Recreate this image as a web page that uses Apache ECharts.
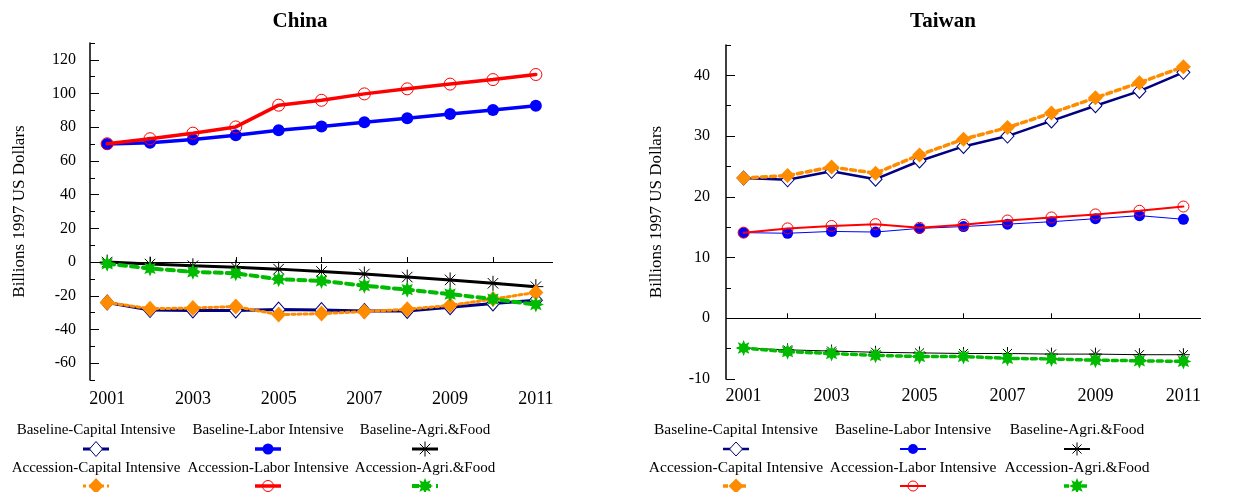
<!DOCTYPE html>
<html>
<head>
<meta charset="utf-8">
<script src="https://cdn.jsdelivr.net/npm/echarts@6/dist/echarts.min.js"></script>
<style>
  html, body { margin: 0; padding: 0; background: #fff; }
  #chart { width: 1238px; height: 492px; }
</style>
</head>
<body>
<div id="chart"></div>
<script>
// Years on the horizontal axis
const years = [2001, 2002, 2003, 2004, 2005, 2006, 2007, 2008, 2009, 2010, 2011];
const labelYears = [2001, 2003, 2005, 2007, 2009, 2011];
const tickYears = [2002, 2004, 2006, 2008, 2010];

const seriesNames = [
  'Baseline-Capital Intensive', 'Baseline-Labor Intensive', 'Baseline-Agri.&Food',
  'Accession-Capital Intensive', 'Accession-Labor Intensive', 'Accession-Agri.&Food'
];

// China, billions of 1997 US dollars
const chinaBaseCap  = [-24, -28.5, -28.7, -28.7, -28.2, -28.5, -29, -29, -26.8, -24.6, -22.6];
const chinaBaseLab  = [70, 70.8, 72.7, 75.3, 78.2, 80.4, 83, 85.3, 87.9, 90.2, 92.7];
const chinaBaseAgri = [0, -1.2, -2.2, -3.1, -4.2, -5.6, -7.1, -8.9, -10.6, -12.6, -14.6];
const chinaAccCap   = [-24, -27.7, -27.3, -26.4, -31.2, -30.6, -29.4, -28, -25.7, -22, -18];
const chinaAccLab   = [70.2, 73.2, 76.5, 80.2, 93.1, 96, 99.8, 102.8, 105.6, 108.3, 111.3];
const chinaAccAgri  = [-1, -3.8, -5.8, -6.7, -10.2, -11.2, -14, -16.4, -19, -22, -25.2];

// Taiwan, billions of 1997 US dollars
const twBaseCap  = [23.1, 22.8, 24.2, 22.9, 25.9, 28.3, 30, 32.5, 35, 37.4, 40.5];
const twBaseLab  = [14.1, 14.0, 14.3, 14.2, 14.8, 15.1, 15.5, 15.9, 16.4, 16.9, 16.3];
const twBaseAgri = [-4.9, -5.2, -5.4, -5.6, -5.7, -5.8, -5.8, -5.9, -5.9, -6.0, -6.0];
const twAccCap   = [23.1, 23.5, 24.9, 23.9, 26.9, 29.5, 31.4, 33.8, 36.3, 38.8, 41.4];
const twAccLab   = [14.1, 14.8, 15.2, 15.5, 14.9, 15.4, 16.1, 16.6, 17.1, 17.7, 18.4];
const twAccAgri  = [-4.9, -5.5, -5.8, -6.1, -6.3, -6.3, -6.6, -6.7, -6.9, -7.0, -7.1];

// Y tick labels
const chinaYLabels = [-60, -40, -20, 0, 20, 40, 60, 80, 100, 120];
const chinaYMinor  = [-70, -50, -30, -10, 10, 30, 50, 70, 90, 110, 130];
const twYLabels = [-10, 0, 10, 20, 30, 40];
const twYMinor  = [-5, 5, 15, 25, 35, 45];

const FONT = '"Liberation Serif", "Times New Roman", serif';
const NAVY = '#000080', BLUE = '#0000ff', BLACK = '#000000',
      ORANGE = '#ff8c00', RED = '#ff0000', GREEN = '#00bb00';

function starPts(n, rOut, rIn, cx, cy) {
  const pts = [];
  for (let i = 0; i < 2 * n; i++) {
    const a = -Math.PI / 2 + i * Math.PI / n;
    const r = i % 2 ? rIn : rOut;
    pts.push([cx + r * Math.cos(a), cy + r * Math.sin(a)]);
  }
  return pts;
}
const STAR_PATH = 'path://' + starPts(8, 10, 5.5, 10, 10)
  .map((p, i) => (i ? 'L' : 'M') + p[0].toFixed(2) + ',' + p[1].toFixed(2)).join('') + 'Z';
const ASTER_PATH = 'path://M0,5L10,5M5,0L5,10M1.5,1.5L8.5,8.5M8.5,1.5L1.5,8.5';

// Drawing styles per chart, in series order
const chinaStyles = [
  { color: NAVY,   lw: 3,   dash: 'solid', sym: 'diamond',  size: [13, 15], fill: '#fff', bw: 1 },
  { color: BLUE,   lw: 3.5, dash: 'solid', sym: 'circle',   size: 12, fill: BLUE },
  { color: BLACK,  lw: 3,   dash: 'solid', sym: 'asterisk', size: 15, fill: 'rgba(0,0,0,0)', bw: 1 },
  { color: ORANGE, lw: 3,   dash: [3, 3],  sym: 'diamond',  size: [15, 16], fill: ORANGE },
  { color: RED,    lw: 3.5, dash: 'solid', sym: 'circle',   size: 12, fill: 'rgba(255,255,255,0)', bw: 1 },
  { color: GREEN,  lw: 4,   dash: [7, 5],  sym: 'star',     size: 16, fill: GREEN }
];
const twStyles = [
  { color: NAVY,   lw: 2.5, dash: 'solid', sym: 'diamond',  size: [13, 14], fill: '#fff', bw: 1 },
  { color: BLUE,   lw: 1,   dash: 'solid', sym: 'circle',   size: 11, fill: BLUE },
  { color: BLACK,  lw: 1,   dash: 'solid', sym: 'asterisk', size: 13, fill: 'rgba(0,0,0,0)', bw: 1 },
  { color: ORANGE, lw: 3.5, dash: [5, 4],  sym: 'diamond',  size: [15, 15], fill: ORANGE },
  { color: RED,    lw: 2,   dash: 'solid', sym: 'circle',   size: 11, fill: 'rgba(255,255,255,0)', bw: 1 },
  { color: GREEN,  lw: 3.5, dash: [5, 4],  sym: 'star',     size: 16, fill: GREEN }
];

function symbolOf(s) {
  if (s.sym === 'asterisk') return ASTER_PATH;
  if (s.sym === 'star') return STAR_PATH;
  return s.sym;
}

function pairs(vals) { return years.map((y, i) => [y, vals[i]]); }

function buildSeries(dataSets, styles, k) {
  return dataSets.map((vals, i) => {
    const s = styles[i];
    const ser = {
      name: seriesNames[i],
      type: 'line',
      xAxisIndex: k,
      yAxisIndex: 2 * k,
      data: pairs(vals),
      symbol: symbolOf(s),
      symbolSize: s.size,
      symbolKeepAspect: true,
      showAllSymbol: true,
      lineStyle: { color: s.color, width: s.lw, type: s.dash, cap: 'round' },
      itemStyle: { color: s.fill, borderColor: s.color, borderWidth: s.bw || 0 },
      emphasis: { disabled: true },
      z: 3 + i
    };
    if (i === 0) {
      ser.markLine = {
        silent: true,
        symbol: ['none', 'none'],
        label: { show: false },
        lineStyle: { color: '#000', width: 1, type: 'solid' },
        data: [{ yAxis: 0 }]
      };
    }
    return ser;
  });
}

function xAxisFor(k, margin) {
  return {
    gridIndex: k, type: 'value', min: 2000.6, max: 2011.4,
    axisLine: { show: false },
    axisTick: { show: true, inside: true, length: 5, customValues: tickYears,
                lineStyle: { color: '#000', width: 1 } },
    axisLabel: { customValues: labelYears, margin: margin, color: '#000',
                 fontFamily: FONT, fontSize: 18, formatter: v => String(v) },
    splitLine: { show: false }
  };
}

function yAxesFor(k, min, max, labels, minor, margin, nameGap) {
  return [{
    gridIndex: k, type: 'value', min: min, max: max,
    axisLine: { show: true, lineStyle: { color: '#000', width: 1.5 } },
    axisTick: { show: true, inside: true, length: 9, customValues: labels,
                lineStyle: { color: '#000', width: 1 } },
    axisLabel: { customValues: labels, margin: margin, color: '#000',
                 fontFamily: FONT, fontSize: 16 },
    splitLine: { show: false },
    name: 'Billions 1997 US Dollars', nameLocation: 'middle', nameRotate: 90,
    nameGap: nameGap,
    nameTextStyle: { color: '#000', fontFamily: FONT, fontSize: 17 }
  }, {
    gridIndex: k, type: 'value', min: min, max: max, position: 'left',
    axisLine: { show: false },
    axisTick: { show: true, inside: true, length: 5, customValues: minor,
                lineStyle: { color: '#000', width: 1 } },
    axisLabel: { show: false },
    splitLine: { show: false }
  }];
}

// Legend: caption above, line sample with marker below
function legendGraphics(styles, cols, rowsText, rowsSym, fontSize) {
  const els = [];
  styles.forEach((s, i) => {
    const cx = cols[i % 3];
    const row = Math.floor(i / 3);
    const ty = rowsText[row], sy = rowsSym[row];
    els.push({
      type: 'text', x: cx, y: ty, silent: true,
      style: { text: seriesNames[i], fill: '#000', font: fontSize + 'px ' + FONT,
               align: 'center', verticalAlign: 'middle' }
    });
    els.push({
      type: 'line', silent: true,
      shape: { x1: cx - 13, y1: sy, x2: cx + 13, y2: sy },
      style: { stroke: s.color, lineWidth: Math.max(s.lw, 2),
               lineDash: Array.isArray(s.dash) ? s.dash : null }
    });
    const sz = Array.isArray(s.size) ? s.size : [s.size, s.size];
    if (s.sym === 'diamond') {
      els.push({ type: 'polygon', silent: true,
        shape: { points: [[cx, sy - sz[1] / 2], [cx + sz[0] / 2, sy], [cx, sy + sz[1] / 2], [cx - sz[0] / 2, sy]] },
        style: { fill: s.fill, stroke: s.color, lineWidth: s.bw || 0 } });
    } else if (s.sym === 'circle') {
      els.push({ type: 'circle', silent: true,
        shape: { cx: cx, cy: sy, r: sz[0] / 2 - 0.5 },
        style: { fill: s.fill, stroke: s.color, lineWidth: s.bw || 0 } });
    } else if (s.sym === 'star') {
      els.push({ type: 'polygon', silent: true,
        shape: { points: starPts(8, sz[0] / 2, sz[0] / 2 * 0.55, cx, sy) },
        style: { fill: s.fill } });
    } else {
      const r = sz[0] / 2, d = r * 0.7;
      [[-r, 0, r, 0], [0, -r, 0, r], [-d, -d, d, d], [d, -d, -d, d]].forEach(l => {
        els.push({ type: 'line', silent: true,
          shape: { x1: cx + l[0], y1: sy + l[1], x2: cx + l[2], y2: sy + l[3] },
          style: { stroke: s.color, lineWidth: 1 } });
      });
    }
  });
  return els;
}

const chart = echarts.init(document.getElementById('chart'), null, { renderer: 'canvas' });

const option = {
  animation: false,
  backgroundColor: '#fff',
  grid: [
    { left: 90, right: 685, top: 43, bottom: 112 },
    { left: 726, right: 37, top: 45, bottom: 113 }
  ],
  xAxis: [xAxisFor(0, 10), xAxisFor(1, 8)],
  yAxis: [
    ...yAxesFor(0, -70, 130, chinaYLabels, chinaYMinor, 14, 62),
    ...yAxesFor(1, -10, 45, twYLabels, twYMinor, 16, 61)
  ],
  series: [
    ...buildSeries([chinaBaseCap, chinaBaseLab, chinaBaseAgri, chinaAccCap, chinaAccLab, chinaAccAgri], chinaStyles, 0),
    ...buildSeries([twBaseCap, twBaseLab, twBaseAgri, twAccCap, twAccLab, twAccAgri], twStyles, 1)
  ],
  graphic: [
    { type: 'text', x: 300, y: 22, silent: true,
      style: { text: 'China', fill: '#000', font: 'bold 21px ' + FONT, align: 'center', verticalAlign: 'middle' } },
    { type: 'text', x: 943, y: 22, silent: true,
      style: { text: 'Taiwan', fill: '#000', font: 'bold 21px ' + FONT, align: 'center', verticalAlign: 'middle' } },
    ...legendGraphics(chinaStyles, [96, 268, 425], [430, 468], [449, 486], 15),
    ...legendGraphics(twStyles, [736, 913, 1077], [430, 468], [449, 486], 15.5)
  ]
};

chart.setOption(option);
</script>
</body>
</html>
